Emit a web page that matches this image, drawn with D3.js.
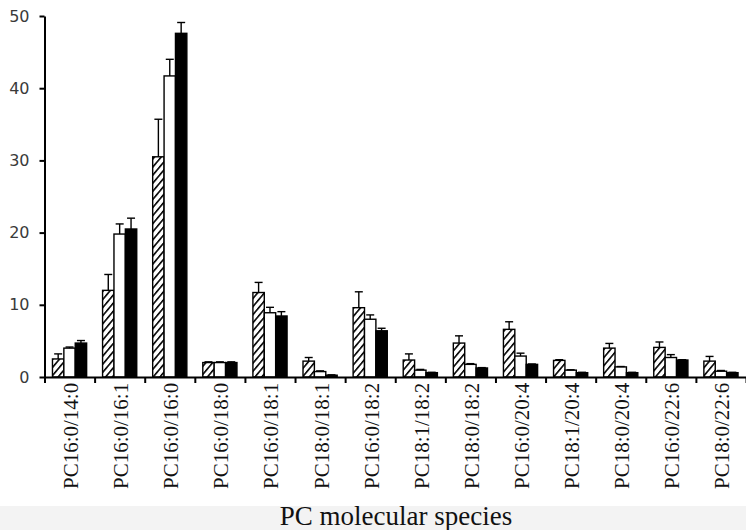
<!DOCTYPE html>
<html>
<head>
<meta charset="utf-8">
<script src="https://cdn.jsdelivr.net/npm/d3@7/dist/d3.min.js"></script>
<style>
  html, body { margin: 0; padding: 0; background: #fff; }
  svg { display: block; }
</style>
</head>
<body>
<script>
// PC molecular species (% of total PC), three groups with upward SD bars
const categories = [
  "PC16:0/14:0", "PC16:0/16:1", "PC16:0/16:0", "PC16:0/18:0", "PC16:0/18:1",
  "PC18:0/18:1", "PC16:0/18:2", "PC18:1/18:2", "PC18:0/18:2", "PC16:0/20:4",
  "PC18:1/20:4", "PC18:0/20:4", "PC16:0/22:6", "PC18:0/22:6"
];
const seriesNames = ["hatched", "open", "solid"];

const hatchedValues = [2.5, 12.0, 30.5, 2.0, 11.7, 2.2, 9.6, 2.35, 4.7, 6.6, 2.3, 4.0, 4.1, 2.2];
const hatchedSD     = [0.7, 2.2, 5.2, 0.1, 1.4, 0.5, 2.2, 0.85, 1.0, 1.05, 0.1, 0.65, 0.75, 0.65];
const openValues    = [4.0, 19.8, 41.7, 2.0, 8.9, 0.75, 8.0, 0.95, 1.75, 2.9, 0.95, 1.4, 2.7, 0.8];
const openSD        = [0.15, 1.4, 2.3, 0.1, 0.75, 0.1, 0.6, 0.1, 0.1, 0.4, 0.05, 0.05, 0.4, 0.1];
const solidValues   = [4.7, 20.5, 47.6, 2.0, 8.45, 0.25, 6.4, 0.6, 1.25, 1.75, 0.6, 0.6, 2.35, 0.6];
const solidSD       = [0.35, 1.5, 1.5, 0.1, 0.6, 0.05, 0.35, 0.05, 0.05, 0.05, 0.05, 0.05, 0.05, 0.05];

const yTicks = [0, 10, 20, 30, 40, 50];
const xTitle = "PC molecular species";

const values = [hatchedValues, openValues, solidValues];
const sds = [hatchedSD, openSD, solidSD];

const W = 746, H = 530;
const plotLeft = 44.5, plotRight = 746, plotTop = 16, plotBottom = 377;

const svg = d3.select("body").append("svg")
  .attr("width", W).attr("height", H);

svg.append("rect").attr("width", W).attr("height", H).attr("fill", "#fff");
svg.append("rect").attr("x", 0).attr("y", 506).attr("width", W).attr("height", H - 506)
  .attr("fill", "#f3f3f3");

// diagonal hatching
const defs = svg.append("defs");
const pat = defs.append("pattern")
  .attr("id", "hatch")
  .attr("patternUnits", "userSpaceOnUse")
  .attr("width", 5.2).attr("height", 5.2)
  .attr("patternTransform", "rotate(40)");
pat.append("rect").attr("width", 5.2).attr("height", 5.2).attr("fill", "#fff");
pat.append("line").attr("x1", 0).attr("y1", 0).attr("x2", 0).attr("y2", 5.2)
  .attr("stroke", "#000").attr("stroke-width", 3.2);

const fills = { hatched: "url(#hatch)", open: "#fff", solid: "#000" };

const x = d3.scaleBand().domain(categories).range([plotLeft, plotRight]).paddingInner(0).paddingOuter(0);
const xs = d3.scaleBand().domain(seriesNames).range([0, x.bandwidth()]).paddingInner(0).paddingOuter(0.7);
const y = d3.scaleLinear().domain([0, 50]).range([plotBottom, plotTop]);

const rows = [];
categories.forEach((c, i) => {
  seriesNames.forEach((s, k) => {
    rows.push({ cat: c, series: s, value: values[k][i], sd: sds[k][i] });
  });
});

const g = svg.append("g");

// bars
g.selectAll("rect.bar").data(rows).join("rect")
  .attr("class", "bar")
  .attr("x", d => x(d.cat) + xs(d.series))
  .attr("width", xs.bandwidth())
  .attr("y", d => y(d.value))
  .attr("height", d => y(0) - y(d.value))
  .attr("fill", d => fills[d.series])
  .attr("stroke", "#000")
  .attr("stroke-width", 1.4);

// upward error bars with caps
const eb = g.selectAll("g.err").data(rows).join("g").attr("class", "err")
  .attr("stroke", "#000").attr("stroke-width", 1.4);
eb.append("line")
  .attr("x1", d => x(d.cat) + xs(d.series) + xs.bandwidth() / 2)
  .attr("x2", d => x(d.cat) + xs(d.series) + xs.bandwidth() / 2)
  .attr("y1", d => y(d.value))
  .attr("y2", d => y(d.value + d.sd));
eb.append("line")
  .attr("x1", d => x(d.cat) + xs(d.series) + xs.bandwidth() / 2 - 4)
  .attr("x2", d => x(d.cat) + xs(d.series) + xs.bandwidth() / 2 + 4)
  .attr("y1", d => y(d.value + d.sd))
  .attr("y2", d => y(d.value + d.sd));

// y axis
const yAxis = svg.append("g").attr("transform", `translate(${plotLeft},0)`)
  .call(d3.axisLeft(y).tickValues(yTicks).tickSize(5).tickPadding(10).tickSizeOuter(0));
yAxis.select(".domain").attr("stroke", "#000").attr("stroke-width", 2);
yAxis.selectAll(".tick line").attr("stroke", "#000").attr("stroke-width", 2);
yAxis.selectAll(".tick text")
  .attr("font-family", "'DejaVu Sans', sans-serif")
  .attr("font-size", 16)
  .attr("fill", "#3a3a3a");

// x axis: ticks at category boundaries
const xb = d3.scaleLinear().domain([0, categories.length]).range([plotLeft, plotRight]);
const xAxis = svg.append("g").attr("transform", `translate(0,${plotBottom})`)
  .call(d3.axisBottom(xb).tickValues(d3.range(categories.length + 1)).tickSize(6).tickFormat("").tickSizeOuter(0));
xAxis.select(".domain").attr("stroke", "#000").attr("stroke-width", 2);
xAxis.selectAll(".tick line").attr("stroke", "#000").attr("stroke-width", 2);

// rotated category labels
const xLab = svg.append("g").attr("transform", `translate(0,${plotBottom})`)
  .call(d3.axisBottom(x).tickSize(0).tickSizeOuter(0));
xLab.select(".domain").remove();
xLab.selectAll(".tick text")
  .attr("font-family", "'Liberation Serif', 'Times New Roman', serif")
  .attr("font-size", 21)
  .attr("fill", "#111")
  .attr("text-anchor", "start")
  .attr("dy", null)
  .attr("y", 0)
  .attr("transform", "translate(8.5,112) rotate(-90)");

// axis title
svg.append("text")
  .attr("x", 396).attr("y", 525)
  .attr("text-anchor", "middle")
  .attr("font-family", "'Liberation Serif', 'Times New Roman', serif")
  .attr("font-size", 27)
  .attr("fill", "#111")
  .text(xTitle);
</script>
</body>
</html>
